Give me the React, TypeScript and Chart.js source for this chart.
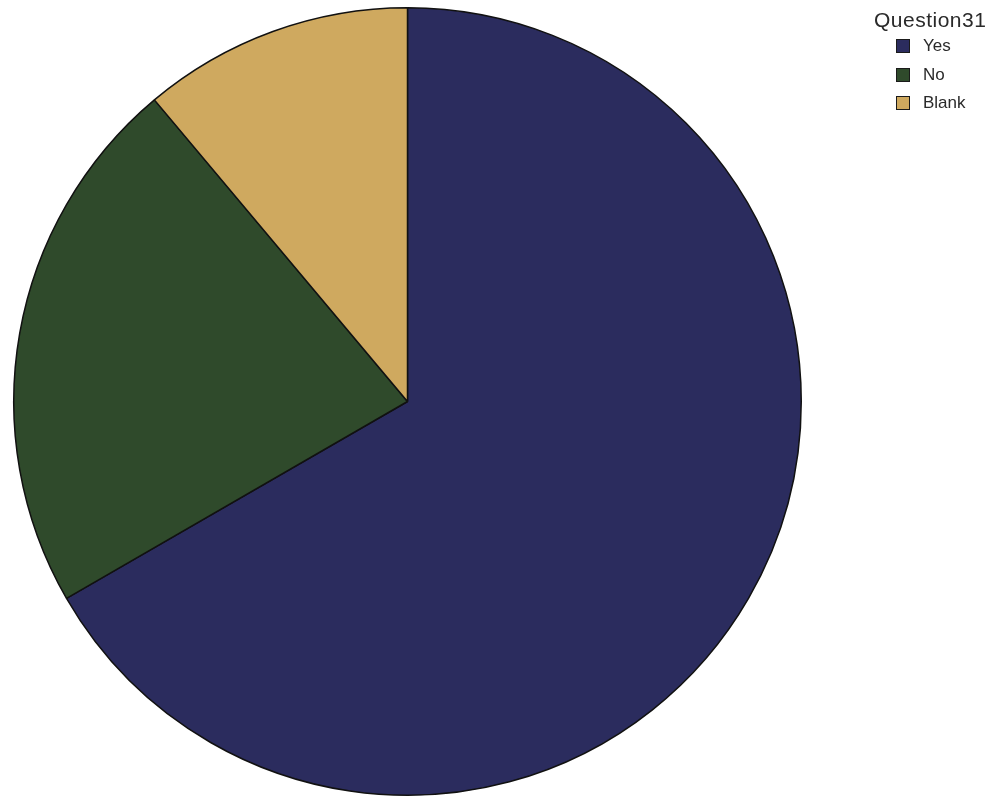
import React, { useEffect, useRef } from "react";
import { Chart, registerables } from "chart.js";

Chart.register(...registerables);

const legendTitle = "Question31";
const categories = ["Yes", "No", "Blank"];
const values = [6, 2, 1];
const colors = ["#2b2c5e", "#2f4a2b", "#cfa95f"];

export default function App() {
  const ref = useRef<HTMLCanvasElement | null>(null);

  useEffect(() => {
    document.body.style.margin = "0";
    const chart = new Chart(ref.current!, {
      type: "pie",
      data: {
        labels: categories,
        datasets: [
          {
            data: values,
            backgroundColor: colors,
            borderColor: "#111111",
            borderWidth: 1.5,
          },
        ],
      },
      options: {
        animation: false,
        responsive: false,
        layout: { padding: { left: 13, top: 7, right: 191, bottom: 1 } },
        plugins: { legend: { display: false }, tooltip: { enabled: false } },
      },
    });
    return () => chart.destroy();
  }, []);

  const itemTops = [39, 67.5, 96];

  return (
    <div style={{ position: "relative", width: 993, height: 797, background: "#fff", fontFamily: "'Liberation Sans', Arial, sans-serif", color: "#2a2a2a" }}>
      <canvas ref={ref} width={993} height={797} style={{ position: "absolute", left: 0, top: 0 }} />
      <div style={{ position: "absolute", left: 874, top: 8, fontSize: 21, lineHeight: "24px", letterSpacing: 0.5, whiteSpace: "nowrap" }}>{legendTitle}</div>
      {categories.map((c, i) => (
        <div key={c} style={{ position: "absolute", left: 896, top: itemTops[i], height: 14, display: "flex", alignItems: "center", whiteSpace: "nowrap" }}>
          <span style={{ display: "inline-block", boxSizing: "border-box", width: 14, height: 14, background: colors[i], border: "1.5px solid #1a1a1a", marginRight: 13 }} />
          <span style={{ fontSize: 17, lineHeight: "14px" }}>{c}</span>
        </div>
      ))}
    </div>
  );
}
